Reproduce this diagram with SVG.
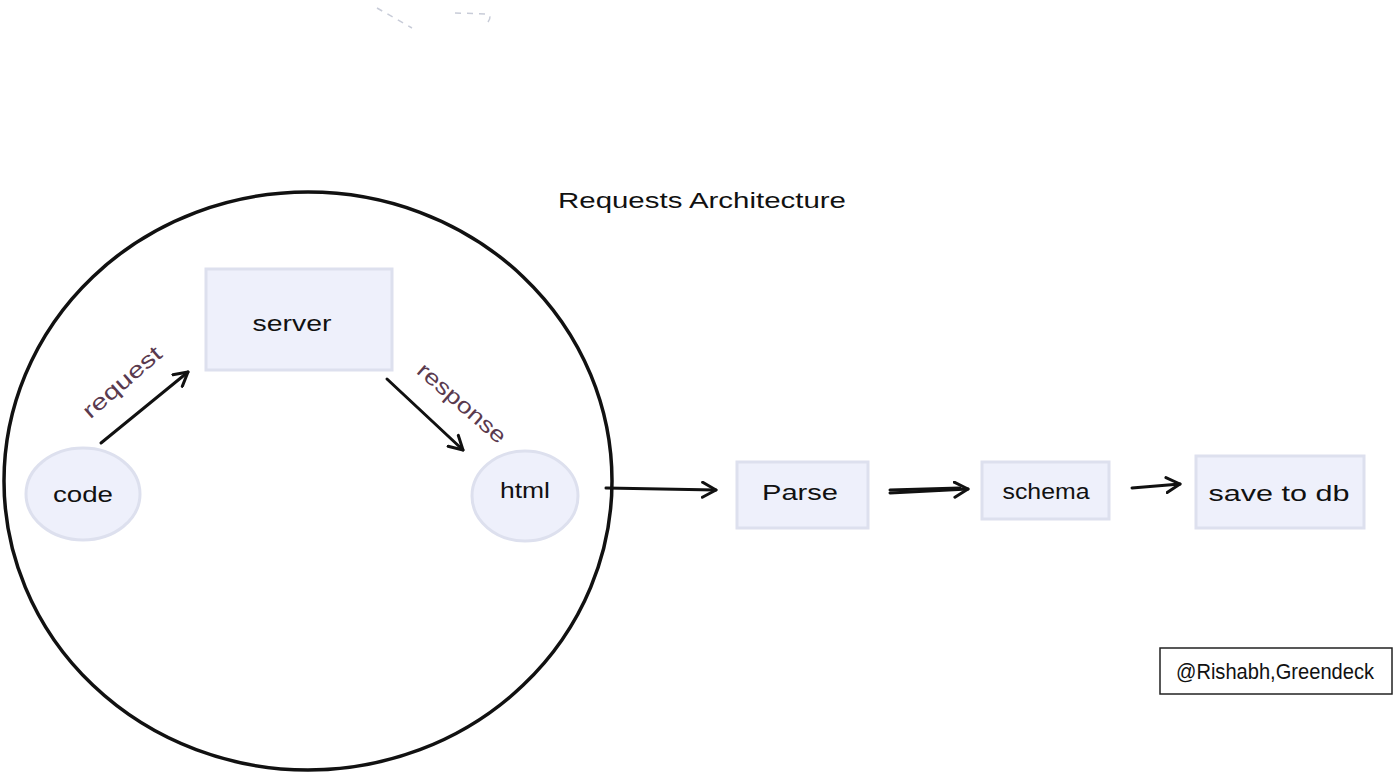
<svg xmlns="http://www.w3.org/2000/svg" width="1400" height="772" viewBox="0 0 1400 772">
<style>
.lbl{font-family:"Liberation Sans",Arial,sans-serif;font-size:22px;fill:#111;text-anchor:middle;dominant-baseline:central}
.edge{font-family:"Liberation Sans",Arial,sans-serif;font-size:22px;fill:#5a3a4e;text-anchor:middle;dominant-baseline:central}
.box{fill:#eef0fb;stroke:#dde0ee;stroke-width:3}
.conn{fill:none;stroke:#111;stroke-width:3;stroke-linecap:round}
.faint{fill:none;stroke:#c8ccd8;stroke-width:1.5;stroke-dasharray:6 6}
</style>
<defs>
<marker id="ah" viewBox="0 0 12 12" refX="10" refY="6" markerWidth="6" markerHeight="6" orient="auto" markerUnits="strokeWidth">
<path d="M1,1 L10,6 L1,11" fill="none" stroke="#111" stroke-width="2" stroke-linecap="round" stroke-linejoin="round"/>
</marker>
</defs>
<rect width="1400" height="772" fill="#fff"/>
<g id="faint-marks">
<path class="faint" d="M377,8 L412,28"/>
<path class="faint" d="M455,13 L488,14 Q492,16 488,22"/>
</g>
<g id="title"><text class="lbl" x="702" y="200" textLength="288" lengthAdjust="spacingAndGlyphs">Requests Architecture</text></g>
<g id="boundary"><ellipse cx="308" cy="481" rx="304" ry="289" fill="none" stroke="#111" stroke-width="3.5"/></g>
<g id="server"><rect class="box" x="206" y="269" width="186" height="101"/><text class="lbl" x="292" y="323" textLength="79" lengthAdjust="spacingAndGlyphs">server</text></g>
<g id="code"><ellipse class="box" cx="83" cy="494" rx="57" ry="46"/><text class="lbl" x="83" y="494" textLength="60" lengthAdjust="spacingAndGlyphs">code</text></g>
<g id="html"><ellipse class="box" cx="525" cy="496" rx="53" ry="45"/><text class="lbl" x="525" y="490" textLength="50" lengthAdjust="spacingAndGlyphs">html</text></g>
<g id="parse"><rect class="box" x="737" y="462" width="131" height="66"/><text class="lbl" x="800" y="492" textLength="76" lengthAdjust="spacingAndGlyphs">Parse</text></g>
<g id="schema"><rect class="box" x="982" y="462" width="127" height="57"/><text class="lbl" x="1046" y="491" textLength="87" lengthAdjust="spacingAndGlyphs">schema</text></g>
<g id="savedb"><rect class="box" x="1196" y="456" width="168" height="72"/><text class="lbl" x="1279" y="493" textLength="141" lengthAdjust="spacingAndGlyphs">save to db</text></g>
<g id="watermark"><rect x="1160" y="648" width="232" height="46" fill="#fff" stroke="#222" stroke-width="1.5"/><text class="lbl" x="1275" y="671" font-size="19" textLength="198" lengthAdjust="spacingAndGlyphs">@Rishabh,Greendeck</text></g>
<g id="connectors">
<path class="conn" d="M101,443 L188,372" marker-end="url(#ah)"/>
<text class="edge" x="122" y="382" transform="rotate(-41 122 382)" textLength="97" lengthAdjust="spacingAndGlyphs">request</text>
<path class="conn" d="M387,379 L463,450" marker-end="url(#ah)"/>
<text class="edge" x="462" y="403" transform="rotate(41 462 403)" textLength="110" lengthAdjust="spacingAndGlyphs">response</text>
<path class="conn" d="M606,488 L716,490" marker-end="url(#ah)"/>
<path class="conn" d="M890,493 L968,489" marker-end="url(#ah)"/>
<path class="conn" d="M890,490 L960,488" stroke-width="2"/>
<path class="conn" d="M1132,488 L1180,484" marker-end="url(#ah)"/>
</g>
</svg>
